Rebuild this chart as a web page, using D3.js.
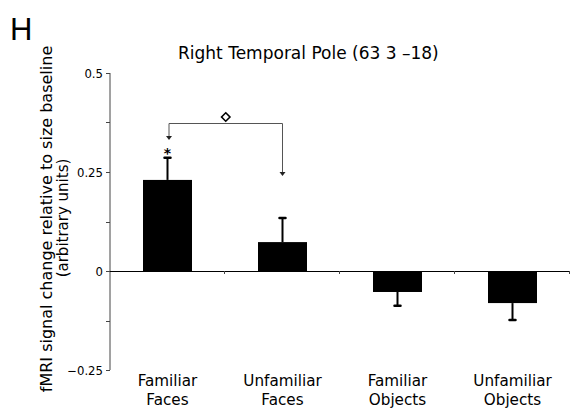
<!DOCTYPE html>
<html>
<head>
<meta charset="utf-8">
<script src="https://cdn.jsdelivr.net/npm/d3@7"></script>
<style>
  html, body { margin: 0; padding: 0; background: #fff; }
  svg { display: block; }
  text { font-family: "DejaVu Sans", Verdana, sans-serif; fill: #000; }
</style>
</head>
<body>
<svg id="chart" width="571" height="413"></svg>
<script>
// Conditions and their mean signal change with standard error
const categories = [["Familiar", "Faces"], ["Unfamiliar", "Faces"], ["Familiar", "Objects"], ["Unfamiliar", "Objects"]];
const means = [0.23, 0.073, -0.053, -0.081];
const errors = [0.056, 0.061, 0.035, 0.043];
const majorTicks = [-0.25, 0, 0.25, 0.5];
const minorTicks = [-0.125, 0.125, 0.375];
const tickLabels = ["\u22120.25", "0", "0.25", "0.5"];

const svg = d3.select("#chart");
const plotLeft = 110, plotRight = 570, plotTop = 73, plotBottom = 370;

const y = d3.scaleLinear().domain([-0.25, 0.5]).range([plotBottom, plotTop]);
const x = d3.scaleBand().domain(d3.range(categories.length)).range([plotLeft, plotRight]).paddingInner(0.574).paddingOuter(0.287);
const xTicks = d3.scaleLinear().domain([0, categories.length]).range([plotLeft, plotRight]);

// Panel letter
svg.append("text").attr("x", 10).attr("y", 39.5)
  .style("font-family", "'Liberation Sans', Arial, sans-serif")
  .style("font-size", "31px").text("H");

// Title
svg.append("text").attr("x", 178).attr("y", 58.5)
  .style("font-size", "17px").text("Right Temporal Pole (63 3 \u201318)");

// Y axis line and ticks
const axisColor = "#444";
svg.append("line").attr("x1", plotLeft).attr("x2", plotLeft).attr("y1", y(0.5)).attr("y2", y(-0.25))
  .attr("stroke", axisColor).attr("stroke-width", 1);
svg.selectAll(".ytick").data(majorTicks.concat(minorTicks)).join("line")
  .attr("x1", plotLeft - 4).attr("x2", plotLeft)
  .attr("y1", d => Math.round(y(d)) + 0.5).attr("y2", d => Math.round(y(d)) + 0.5)
  .attr("stroke", axisColor).attr("stroke-width", 1);
svg.selectAll(".ylab").data(majorTicks).join("text")
  .attr("x", plotLeft - 7).attr("y", d => y(d) + 4.5)
  .attr("text-anchor", "end").style("font-size", "11.7px")
  .text((d, i) => tickLabels[i]);

// Y axis title (two lines)
svg.append("text").attr("transform", "translate(52,219) rotate(-90)")
  .attr("text-anchor", "middle").style("font-size", "16px")
  .text("fMRI signal change relative to size baseline");
svg.append("text").attr("transform", "translate(67.5,218) rotate(-90)")
  .attr("text-anchor", "middle").style("font-size", "15px")
  .text("(arbitrary units)");

// Bars
svg.selectAll(".bar").data(means).join("rect")
  .attr("x", (d, i) => x(i)).attr("width", x.bandwidth())
  .attr("y", d => y(Math.max(0, d)))
  .attr("height", d => Math.abs(y(d) - y(0)))
  .attr("fill", "#000");

// Error bars (outward side only)
const ebar = svg.selectAll(".err").data(means).join("g");
ebar.append("line")
  .attr("x1", (d, i) => x(i) + x.bandwidth() / 2).attr("x2", (d, i) => x(i) + x.bandwidth() / 2)
  .attr("y1", d => y(d))
  .attr("y2", (d, i) => y(d + Math.sign(d) * errors[i]))
  .attr("stroke", "#000").attr("stroke-width", 2);
ebar.append("line")
  .attr("x1", (d, i) => x(i) + x.bandwidth() / 2 - 3).attr("x2", (d, i) => x(i) + x.bandwidth() / 2 + 3)
  .attr("y1", (d, i) => y(d + Math.sign(d) * errors[i]))
  .attr("y2", (d, i) => y(d + Math.sign(d) * errors[i]))
  .attr("stroke", "#000").attr("stroke-width", 2.5).attr("stroke-linecap", "round");

// X axis at zero with category ticks
svg.append("line").attr("x1", plotLeft).attr("x2", plotRight).attr("y1", Math.round(y(0)) + 0.5).attr("y2", Math.round(y(0)) + 0.5)
  .attr("stroke", "#000").attr("stroke-width", 1);
svg.selectAll(".xtick").data(d3.range(1, categories.length + 1)).join("line")
  .attr("x1", d => Math.round(xTicks(d)) - 0.5).attr("x2", d => Math.round(xTicks(d)) - 0.5)
  .attr("y1", y(0)).attr("y2", y(0) + 3)
  .attr("stroke", axisColor).attr("stroke-width", 1);

// Category labels
const cat = svg.selectAll(".cat").data(categories).join("text")
  .attr("text-anchor", "middle").style("font-size", "15.2px");
cat.append("tspan").attr("x", (d, i) => x(i) + x.bandwidth() / 2).attr("y", 386).text(d => d[0]);
cat.append("tspan").attr("x", (d, i) => x(i) + x.bandwidth() / 2).attr("y", 405).text(d => d[1]);

// Comparison bracket between the two face conditions
const bx1 = x(0) + x.bandwidth() / 2 + 1.5, bx2 = x(1) + x.bandwidth() / 2;
const bTop = 123.5;
const bracketColor = "#555";
svg.append("path")
  .attr("d", `M${bx1},${bTop + 15}V${bTop}H${bx2}V${bTop + 51}`)
  .attr("fill", "none").attr("stroke", bracketColor).attr("stroke-width", 1);
[[bx1, bTop + 16.5], [bx2, bTop + 52.5]].forEach(([px, py]) => {
  svg.append("path").attr("d", `M${px - 3},${py - 4}L${px + 3},${py - 4}L${px},${py}Z`).attr("fill", "#222");
});
// Diamond marking the between-condition difference
svg.append("path").attr("d", d3.symbol().type(d3.symbolDiamond2).size(45)())
  .attr("transform", `translate(${(bx1 + bx2) / 2},117)`)
  .attr("fill", "#fff").attr("stroke", "#000").attr("stroke-width", 1.6);
// Asterisk above the familiar-faces bar
svg.append("text").attr("x", x(0) + x.bandwidth() / 2).attr("y", 158)
  .attr("text-anchor", "middle").style("font-size", "14px").style("font-weight", "bold").text("*");
</script>
</body>
</html>
